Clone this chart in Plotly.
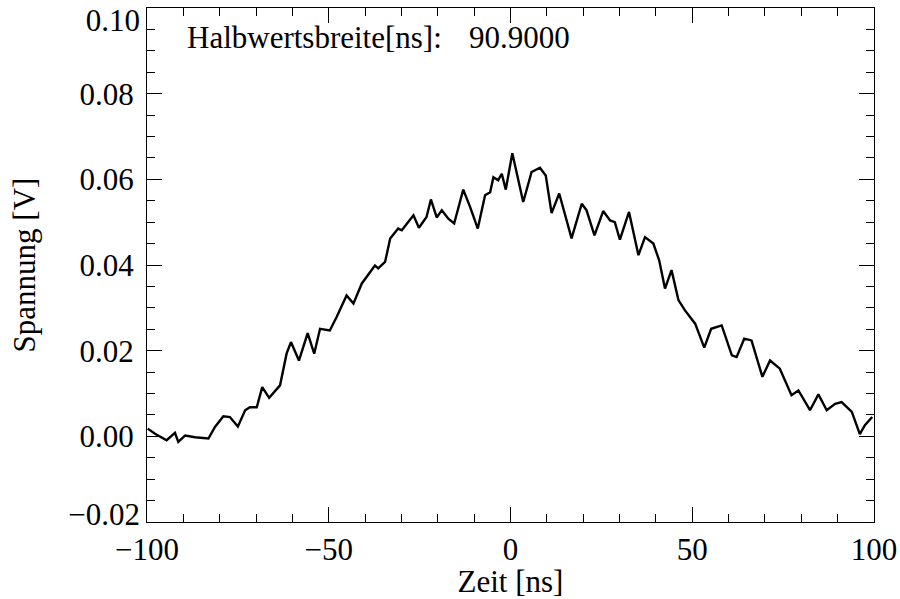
import plotly.graph_objects as go

# Zeit [ns] and Spannung [V]
zeit = [-99.8, -97.8, -94.6, -92.3, -91.4, -89.5, -86.8, -83.1, -81.3, -79.0,
        -77.2, -75.0, -73.0, -71.7, -69.8, -68.3, -66.4, -63.4, -61.6, -60.4,
        -58.2, -55.8, -54.0, -52.4, -49.7, -47.8, -45.1, -43.2, -40.9, -37.3,
        -36.4, -34.5, -33.1, -30.9, -29.9, -26.7, -25.2, -23.1, -21.9, -20.3,
        -18.9, -17.1, -15.5, -13.0, -11.1, -9.0, -7.0, -5.6, -4.7, -3.4,
        -2.4, -1.3, 0.5, 3.5, 5.8, 8.1, 9.7, 11.3, 13.4, 16.8,
        19.6, 20.9, 23.1, 25.5, 27.4, 28.7, 30.1, 32.6, 35.2, 37.0,
        39.3, 40.9, 42.5, 44.3, 46.2, 48.0, 50.8, 53.3, 55.2, 58.1,
        60.9, 62.2, 64.3, 66.3, 69.3, 71.4, 74.1, 77.3, 79.2, 82.4,
        84.7, 87.0, 89.3, 91.1, 93.9, 96.1, 97.5, 99.5]
spannung = [0.0018, 0.0006, -0.0009, 0.0008, -0.0013, 0.0002, -0.0002, -0.0005, 0.0022, 0.0047,
            0.0045, 0.0023, 0.0061, 0.0068, 0.0068, 0.0115, 0.0090, 0.0119, 0.0193, 0.0220,
            0.0177, 0.0241, 0.0193, 0.0251, 0.0247, 0.0279, 0.0329, 0.0310, 0.0357, 0.0399,
            0.0392, 0.0407, 0.0462, 0.0485, 0.0481, 0.0516, 0.0487, 0.0512, 0.0553, 0.0511,
            0.0528, 0.0508, 0.0497, 0.0576, 0.0535, 0.0485, 0.0563, 0.0570, 0.0605, 0.0598,
            0.0613, 0.0576, 0.0661, 0.0547, 0.0617, 0.0627, 0.0609, 0.0521, 0.0567, 0.0462,
            0.0543, 0.0528, 0.0469, 0.0526, 0.0504, 0.0500, 0.0459, 0.0524, 0.0423, 0.0465,
            0.0450, 0.0411, 0.0345, 0.0388, 0.0318, 0.0294, 0.0263, 0.0207, 0.0251, 0.0259,
            0.0189, 0.0185, 0.0228, 0.0224, 0.0139, 0.0177, 0.0158, 0.0096, 0.0107, 0.0061,
            0.0098, 0.0061, 0.0076, 0.0080, 0.0057, 0.0005, 0.0026, 0.0045]

x_ticks = [-100, -50, 0, 50, 100]
y_ticks_inner = [0.00, 0.02, 0.04, 0.06, 0.08]
y_tick_top = [0.10]
y_tick_bottom = [-0.02]
y_range = [-0.02, 0.10]
label_text = "Halbwertsbreite[ns]:"
value_text = "90.9000"

FONT = "Liberation Serif, Times New Roman, serif"
tickfont = dict(family=FONT, size=31, color="black")

fig = go.Figure()
fig.add_trace(go.Scatter(x=zeit, y=spannung, mode="lines",
                         line=dict(color="black", width=2.4), showlegend=False))
# empty traces so the overlay label axes are drawn
fig.add_trace(go.Scatter(x=[], y=[], yaxis="y2", showlegend=False, hoverinfo="skip"))
fig.add_trace(go.Scatter(x=[], y=[], yaxis="y3", showlegend=False, hoverinfo="skip"))

fig.update_layout(
    xaxis=dict(range=[-100, 100], tickvals=x_ticks, automargin=True,
               ticktext=[("\u2212" + str(-v)) if v < 0 else str(v) for v in x_ticks],
               showgrid=False, zeroline=False, showline=True, linecolor="black",
               linewidth=1.2, mirror="ticks", ticks="inside", ticklen=15,
               tickwidth=1.2, tickcolor="black", tickfont=tickfont,
               minor=dict(ticks="inside", ticklen=8, dtick=10, tick0=0,
                          tickcolor="black", tickwidth=1.2),
               title=dict(text="Zeit [ns]", font=tickfont, standoff=0)),
    yaxis=dict(range=y_range, tickvals=[-0.02] + y_ticks_inner + [0.10], automargin=True,
               ticktext=[""] + [f"{v:.2f}" for v in y_ticks_inner] + [""],
               showgrid=False, zeroline=False, showline=True, linecolor="black",
               linewidth=1.2, mirror="ticks", ticks="inside", ticklen=15,
               tickwidth=1.2, tickcolor="black", tickfont=tickfont,
               ticklabelstandoff=6,
               minor=dict(ticks="inside", ticklen=8, dtick=0.005, tick0=0,
                          tickcolor="black", tickwidth=1.2),
               title=dict(text="Spannung [V]", font=tickfont, standoff=34)),
    yaxis2=dict(range=y_range, overlaying="y", side="left", tickvals=y_tick_top,
                ticktext=[f"{v:.2f}" for v in y_tick_top], automargin=False,
                showgrid=False, zeroline=False, showline=False, ticks="",
                tickfont=tickfont, ticklabelstandoff=6, ticklabelshift=12,
                ticklabeloverflow="allow"),
    yaxis3=dict(range=y_range, overlaying="y", side="left", tickvals=y_tick_bottom,
                ticktext=[f"\u2212{-v:.2f}" for v in y_tick_bottom], automargin=False,
                showgrid=False, zeroline=False, showline=False, ticks="",
                tickfont=tickfont, ticklabelstandoff=6, ticklabelshift=-8,
                ticklabeloverflow="allow"),
)

fig.add_annotation(x=0.052, y=0.942, xref="paper", yref="paper", text=label_text,
                   showarrow=False, xanchor="left", yanchor="middle", font=tickfont)
fig.add_annotation(x=0.440, y=0.942, xref="paper", yref="paper", text=value_text,
                   showarrow=False, xanchor="left", yanchor="middle", font=tickfont)

fig.update_layout(width=900, height=599, margin=dict(l=147, r=26, t=8, b=77, autoexpand=False),
                  paper_bgcolor="white", plot_bgcolor="white",
                  font=tickfont)

fig.write_html("out.html")
